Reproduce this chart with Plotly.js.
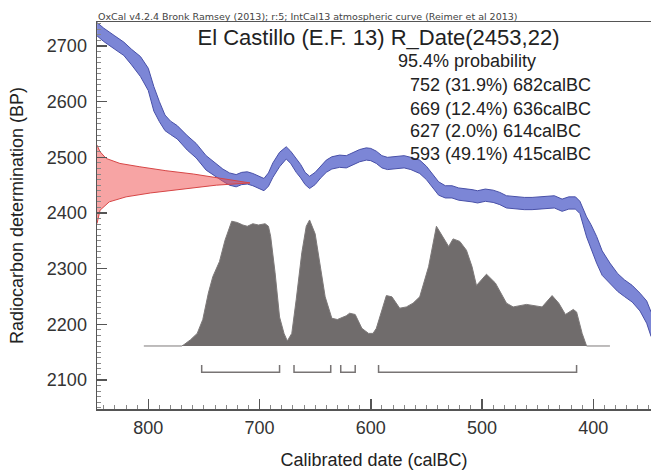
<!DOCTYPE html>
<html>
<head>
<meta charset="utf-8">
<script src="https://cdn.plot.ly/plotly-3.0.1.min.js"></script>
<style>html,body{margin:0;padding:0;background:#fff;}#chart{width:651px;height:470px;}</style>
</head>
<body>
<div id="chart"></div>
<script>
// ---- data ----
const headerText = "OxCal v4.2.4 Bronk Ramsey (2013); r:5; IntCal13 atmospheric curve (Reimer et al 2013)";
const titleText = "El Castillo (E.F. 13) R_Date(2453,22)";
const probHeader = "95.4% probability";
const rangeFrom = [752, 669, 627, 593];
const rangeTo = [682, 636, 614, 415];
const rangePct = ["31.9%", "12.4%", "2.0%", "49.1%"];

// IntCal13 curve (calBC year, BP centre, half-width)
const curveYear = [846,840,830,822,815,807,800,795,790,785,780,774,765,757,748,740,733,727,721,716,711,706,700,696,692,688,682,676,672,667,663,659,655,650,645,640,635,628,622,616,610,604,600,595,590,585,578,570,564,556,550,545,539,533,527,521,515,509,504,497,490,484,478,470,462,455,448,440,435,428,422,416,412,406,402,397,392,385,378,372,365,358,352,348];
const curveBP   = [2730,2720,2706,2695,2680,2663,2640,2605,2582,2562,2553,2545,2526,2512,2490,2478,2468,2461,2458,2462,2463,2460,2455,2451,2460,2477,2496,2508,2500,2485,2475,2462,2455,2462,2474,2484,2490,2493,2492,2498,2503,2506,2505,2500,2492,2489,2491,2492,2489,2483,2472,2460,2444,2438,2438,2434,2433,2431,2429,2432,2430,2426,2420,2418,2417,2417,2418,2420,2420,2414,2418,2418,2410,2375,2357,2334,2310,2292,2275,2265,2255,2240,2222,2200];
const curveErr  = [12,12,12,12,14,18,20,22,18,14,12,12,13,13,13,12,11,11,11,11,11,11,11,11,12,13,13,11,11,12,12,11,11,11,11,11,11,11,11,11,11,11,11,11,11,11,11,11,11,12,12,12,12,11,11,11,11,11,11,11,11,11,11,11,11,11,11,11,11,11,11,11,11,18,22,24,22,18,16,15,15,16,20,22];

// Calibrated probability distribution (calBC year, relative density)
const probYear = [804,770,768,762,756,751,746,742,736,731,725,720,715,711,706,701,695,692,690,686,682,678,675,671,667,662,658,655,650,646,641,635,630,622,619,614,608,602,598,595,590,586,581,574,568,562,556,548,541,536,530,526,520,514,509,505,496,488,478,472,460,446,437,431,425,418,415,410,406,385];
const probDens = [0,0,0.01,0.05,0.1,0.21,0.42,0.55,0.67,0.84,0.99,0.98,0.96,0.95,0.97,0.96,0.97,0.95,0.87,0.58,0.23,0.1,0.04,0.1,0.37,0.74,0.95,1.0,0.89,0.66,0.39,0.22,0.21,0.24,0.26,0.25,0.14,0.1,0.1,0.14,0.28,0.4,0.39,0.3,0.31,0.34,0.39,0.63,0.95,0.88,0.79,0.85,0.83,0.76,0.63,0.48,0.57,0.5,0.34,0.31,0.33,0.31,0.4,0.34,0.25,0.29,0.27,0.1,0,0];

// Radiocarbon measurement distribution (BP, relative density)
const rdateBP   = [2522,2510,2498,2489,2483,2476,2470,2463,2454,2450,2443,2436,2429,2420,2405,2381];
const rdateDens = [0,0.02,0.06,0.15,0.28,0.45,0.63,0.78,1.0,0.78,0.56,0.35,0.19,0.08,0.02,0];

// ---- traces ----
const lower = curveBP.map((v,i)=>v-curveErr[i]);
const upper = curveBP.map((v,i)=>v+curveErr[i]);
const bandLine = 'rgb(72,80,168)';
const traces = [];
traces.push({x: curveYear, y: lower, type:'scatter', mode:'lines', line:{color:bandLine, width:1}, hoverinfo:'skip', showlegend:false});
traces.push({x: curveYear, y: upper, type:'scatter', mode:'lines', fill:'tonexty', fillcolor:'rgb(124,134,214)', line:{color:bandLine, width:1}, hoverinfo:'skip', showlegend:false});
traces.push({x: probYear, y: probDens, xaxis:'x', yaxis:'y2', type:'scatter', mode:'lines', fill:'tozeroy', fillcolor:'rgb(112,108,108)', line:{color:'rgb(125,121,121)', width:1}, showlegend:false});
// brackets
const bx = [], by = [];
const bTop = -0.151, bBase = -0.209;
for (let i=0;i<rangeFrom.length;i++){
  bx.push(rangeFrom[i], rangeFrom[i], rangeTo[i], rangeTo[i], null);
  by.push(bTop, bBase, bBase, bTop, null);
}
traces.push({x: bx, y: by, xaxis:'x', yaxis:'y2', type:'scatter', mode:'lines', line:{color:'rgb(120,116,116)', width:1.5}, showlegend:false});
traces.push({x: rdateDens, y: rdateBP, xaxis:'x2', yaxis:'y', type:'scatter', mode:'lines', fill:'tozerox', fillcolor:'rgba(240,80,80,0.52)', line:{color:'rgb(215,70,70)', width:1}, showlegend:false});

// ---- layout ----
const W = 651, H = 470, L = 97, R = 0, T = 22, B = 61;
const pw = W-L-R, ph = H-T-B;
const font = 'Liberation Sans, Arial, sans-serif';
const axCol = '#555';
function px2paperX(x){ return (x-L)/pw; }
function px2paperY(y){ return (H-B-y)/ph; }

const annotations = [
  {text: headerText, xref:'paper', yref:'paper', x:0, y:1, xanchor:'left', yanchor:'bottom', showarrow:false, borderpad:0, yshift:-1,
   font:{family:'DejaVu Sans, sans-serif', size:9.5, color:'#444'}},
  {text: probHeader, xref:'paper', yref:'paper', x:px2paperX(397), y:px2paperY(60.5), xanchor:'left', yanchor:'middle', showarrow:false, borderpad:0,
   font:{family:font, size:18, color:'#222'}}
];
const lineCentres = [85.4, 108.7, 131, 153.7];
for (let i=0;i<rangeFrom.length;i++){
  annotations.push({text: rangeFrom[i] + " (" + rangePct[i] + ") " + rangeTo[i] + "calBC", xref:'paper', yref:'paper',
    x:px2paperX(409), y:px2paperY(lineCentres[i]), xanchor:'left', yanchor:'middle', showarrow:false, borderpad:0,
    font:{family:font, size:18, color:'#222'}});
}

const layout = {
  width: W, height: H,
  margin: {l:L, r:R, t:T, b:B, pad:0},
  paper_bgcolor:'#fff', plot_bgcolor:'#fff',
  showlegend:false,
  title: {text: titleText, font:{family:font, size:22, color:'#222'}, xref:'container', yref:'container', x:378.5/W, xanchor:'center', y:1-37.5/H, yanchor:'middle'},
  xaxis: {range:[846.1, 348.1], tick0:0, dtick:100, ticks:'inside', ticklen:10, tickwidth:1.5, tickcolor:axCol,
          showline:true, linecolor:axCol, linewidth:1.5, mirror:true, showgrid:false, zeroline:false,
          minor:{dtick:10, ticks:'inside', ticklen:4, tickwidth:1, tickcolor:'#888', showgrid:false},
          tickfont:{family:font, size:18, color:'#333'}, ticklabelstandoff:2,
          title:{text:'Calibrated date (calBC)', font:{family:font, size:18, color:'#222'}, standoff:17}},
  yaxis: {range:[2047.9, 2743.1], tick0:0, dtick:100, ticks:'inside', ticklen:10, tickwidth:1.5, tickcolor:axCol,
          showline:true, linecolor:axCol, linewidth:1.5, mirror:false, showgrid:false, zeroline:false,
          minor:{dtick:10, ticks:'inside', ticklen:4, tickwidth:1, tickcolor:'#888', showgrid:false},
          tickfont:{family:font, size:18, color:'#333'}, ticklabelstandoff:5,
          title:{text:'Radiocarbon determination (BP)', font:{family:font, size:18, color:'#222'}, standoff:18}},
  xaxis2: {overlaying:'x', range:[0, 3.621], visible:false, fixedrange:true},
  yaxis2: {overlaying:'y', range:[-0.5, 2.571], visible:false, fixedrange:true},
  annotations: annotations
};

Plotly.newPlot('chart', traces, layout, {staticPlot:true, displayModeBar:false});
</script>
</body>
</html>
